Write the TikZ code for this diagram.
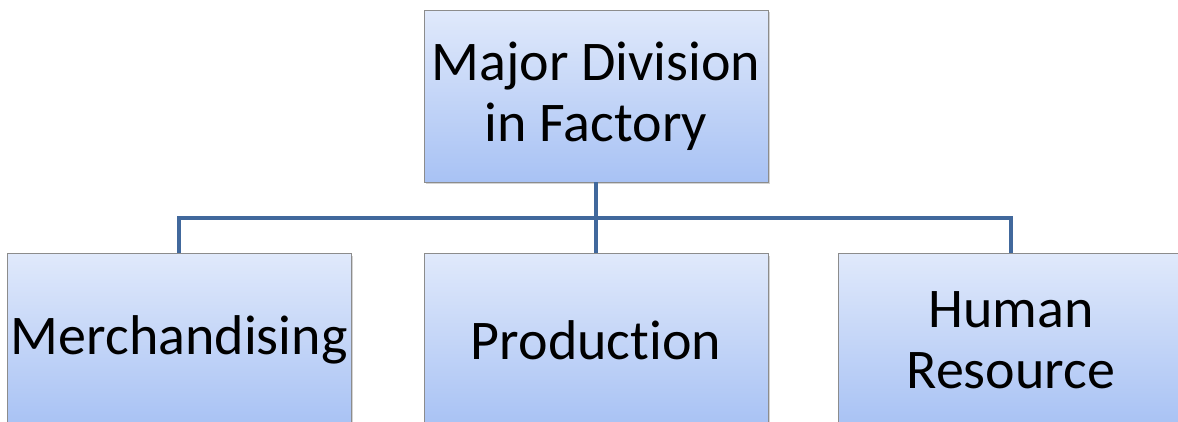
\documentclass[tikz,border=0pt]{standalone}
\usepackage{fontspec}
\setmainfont{Carlito}[Ligatures=NoCommon]
\usetikzlibrary{positioning,shadows}

\definecolor{boxtop}{HTML}{E0E9FB}
\definecolor{boxbot}{HTML}{A8C2F4}
\definecolor{boxline}{HTML}{8C8C8C}
\definecolor{linkblue}{HTML}{41689C}

\begin{document}
\begin{tikzpicture}[
  x=1pt, y=1pt,
  node distance=71pt and 71pt,
  unit/.style={draw=boxline, line width=0.8pt, top color=boxtop, bottom color=boxbot,
    minimum width=344pt, minimum height=172pt, align=center, inner sep=0pt,
    font=\fontsize{56}{61}\selectfont,
    drop shadow={opacity=0.35, shadow xshift=2pt, shadow yshift=-2pt}},
  link/.style={draw=linkblue, line width=4pt}
]
  \useasboundingbox (0,0) rectangle (1178,-421);
  \node[unit] (top) at (596,-96) {Major Division\\in Factory};
  \node[unit, below=of top] (prod) {Production};
  \node[unit, left=72pt of prod] (merch) {Merchandising};
  \node[unit, right=70pt of prod] (hr) {Human\\Resource};
  \draw[link] (top.south) -- (prod.north);
  \draw[link] (merch.north) -- ++(0,35) -| (hr.north);
\end{tikzpicture}
\end{document}
